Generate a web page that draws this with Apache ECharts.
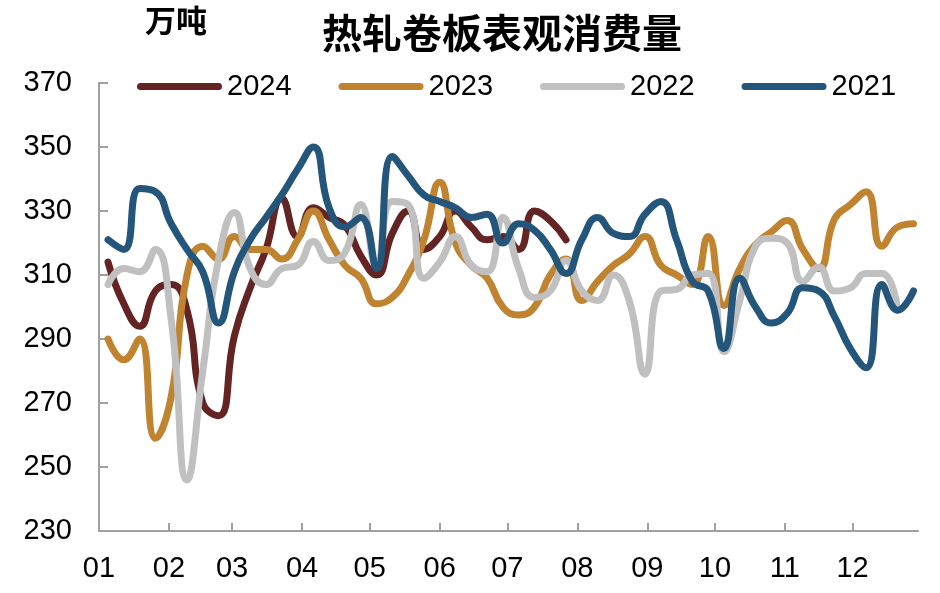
<!DOCTYPE html>
<html>
<head>
<meta charset="utf-8">
<script src="https://cdn.jsdelivr.net/npm/echarts@6/dist/echarts.min.js"></script>
<style>html,body{margin:0;padding:0;background:#fff;}#c{width:940px;height:593px;}</style>
</head>
<body>
<div id="c"></div>
<script>
// Day of year for each weekly observation
const weekDays = [4,11,18,25,32,39,46,53,60,67,74,81,88,95,102,109,116,123,130,137,144,151,158,165,172,179,186,193,200,207,214,221,228,235,242,249,256,263,270,277,284,291,298,305,312,319,326,333,340,347,354,361];
// Month start days (tick positions) and labels
const monthStarts = [0,31,59,90,120,151,181,212,243,273,304,334];
const monthLabels = ['01','02','03','04','05','06','07','08','09','10','11','12'];
const yTicks = [230,250,270,290,310,330,350,370];

const v2024 = [314,301,294,305,307,299,270,266,291,306,318,334,322,331,328,325.5,316,310,323,330,318,322,330,325,321,322,318,330,327,321];
const v2023 = [290,283.5,290,259,272,310,319,315,322,318,318,315,321,330,321,313,309,301,303,310,321,339,320,313,309,300,297.5,300,310,315,302,308,313,316.5,322,313,310,307,322,300.5,312,319.5,323.5,327,318,312,327.5,332,336,319,325,326];
const v2022 = [307,312,311,318,296,246,280,315,329.5,312,307,312,313,320.5,314.5,317,332,313,333,332,309,314,322,313,311,328,312,303,305,314.5,305,302,310,302,279,305,305.5,310,310.5,286,302,319,321.5,320,308,312.5,305,306,310.5,310.5,299];
const v2021 = [321,318,337,336,326,318,311,295,311,321,328,335,343,350,331,325,328,312,347,341,335,333,331,328,329,320,326,324,318,310.5,321,328,323,322,329,333,321,308,305,287,309,300,295,298,306,305,297,287,281,307,299,305];

const seriesDefs = [
  {name:'2024', data:v2024, color:'#632423'},
  {name:'2023', data:v2023, color:'#C0832F'},
  {name:'2022', data:v2022, color:'#C0C0C0'},
  {name:'2021', data:v2021, color:'#24557B'}
];

const chart = echarts.init(document.getElementById('c'));
const fontFam = 'Liberation Sans, Arial, sans-serif';
const capLine = 'path://M3.5,0H81.5A3.5,3.5,0,0,1,81.5,7H3.5A3.5,3.5,0,0,1,3.5,0Z';
chart.setOption({
  animation:false,
  backgroundColor:'#fff',
  title:[
    {text:'热轧卷板表观消费量', left:317, top:8,
     textStyle:{fontFamily:'Noto Sans CJK SC', fontSize:40, fontWeight:'bold', color:'#000'}},
    {text:'万吨', left:140, top:0,
     textStyle:{fontFamily:'Noto Sans CJK SC', fontSize:31, fontWeight:'bold', color:'#000'}}
  ],
  legend:{
    left:132, top:67, itemWidth:85, itemHeight:7, itemGap:47,
    icon: capLine,
    textStyle:{fontFamily:fontFam, fontSize:29, color:'#000'},
    data: seriesDefs.map(s=>s.name)
  },
  grid:{left:99, right:22, top:83, bottom:62, containLabel:false},
  xAxis:{
    type:'value', min:0, max:363,
    axisLine:{show:true, lineStyle:{color:'#a0a0a0', width:2}},
    axisTick:{show:true, inside:true, length:8, customValues:monthStarts, lineStyle:{color:'#a0a0a0', width:2}},
    axisLabel:{customValues:monthStarts, margin:23, color:'#000', fontFamily:fontFam, fontSize:29,
      formatter:function(v){const i=monthStarts.indexOf(v);return i>=0?monthLabels[i]:'';}},
    splitLine:{show:false}
  },
  yAxis:{
    type:'value', min:yTicks[0], max:yTicks[yTicks.length-1], interval:20,
    axisLine:{show:true, lineStyle:{color:'#a0a0a0', width:2}},
    axisTick:{show:true, inside:true, length:9, lineStyle:{color:'#a0a0a0', width:2}},
    axisLabel:{margin:27, color:'#000', fontFamily:fontFam, fontSize:29},
    splitLine:{show:false}
  },
  series: seriesDefs.map(s=>({
    name:s.name, type:'line', smooth:0.5, symbol:'none',
    data: s.data.map((v,i)=>[weekDays[i], v]),
    itemStyle:{color:s.color},
    lineStyle:{color:s.color, width:7, cap:'round', join:'round'}
  }))
});
</script>
</body>
</html>
